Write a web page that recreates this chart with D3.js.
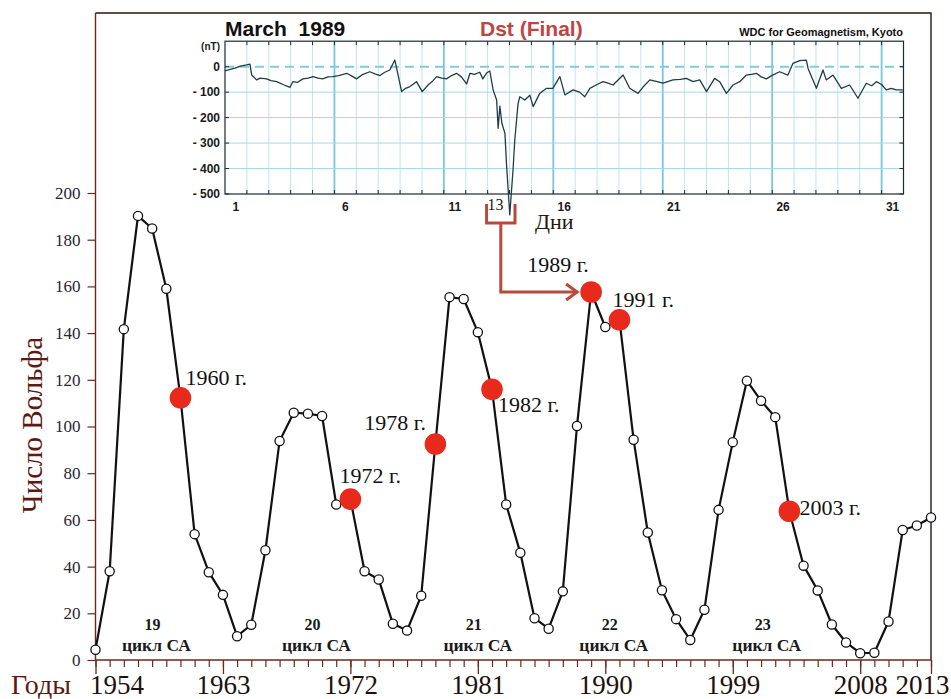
<!DOCTYPE html>
<html><head><meta charset="utf-8">
<script src="https://cdn.jsdelivr.net/npm/d3@7"></script>
<style>body{margin:0;background:#fff}svg{display:block}</style>
</head><body><svg id="c" width="951" height="699"></svg>
<script>
// ---- main chart data: yearly Wolf number ----
const years = d3.range(1954, 2014);
const wolf = [4.4,38.0,141.7,190.2,184.8,159.0,112.3,53.9,37.6,27.9,
  10.2,15.1,47.0,93.8,105.9,105.5,104.5,66.6,68.9,38.0,
  34.5,15.5,12.6,27.5,92.5,155.4,154.6,140.4,115.9,66.6,
  45.9,17.9,13.4,29.4,100.2,157.6,142.6,145.7,94.3,54.6,
  29.9,17.5,8.6,21.5,64.3,93.3,119.6,111.0,104.0,63.7,
  40.4,29.8,15.2,7.5,2.9,3.1,16.5,55.7,57.6,61.0];
const markedYears = [1960,1972,1978,1982,1989,1991,2003];
const markLabels = ["1960 г.","1972 г.","1978 г.","1982 г.","1989 г.","1991 г.","2003 г."];
const majorYears = [1954,1963,1972,1981,1990,1999,2008,2013];
const yTicks = d3.range(0,201,20);
const cycleNums = ["19","20","21","22","23"];
const cycleYears = [1958.3,1969.6,1981.0,1990.6,2001.4];

// ---- inset data: Dst, March 1989 (day = decimal days from 1 March 00 UT) ----
const dstDay = [0,0.20,0.46,0.70,0.99,1.14,1.22,1.45,1.60,1.90,2.10,2.36,2.65,2.97,3.10,3.30,3.56,3.80,4.02,4.25,4.47,4.70,4.93,5.20,5.56,5.80,6.01,6.30,6.62,6.85,7.08,7.30,7.53,7.76,7.84,8.07,8.25,8.45,8.75,9.01,9.28,9.50,9.67,9.90,10.12,10.35,10.58,10.80,11.04,11.19,11.40,11.64,11.78,11.95,12.10,12.25,12.41,12.48,12.56,12.65,12.79,12.86,13.01,13.16,13.24,13.39,13.47,13.70,13.93,14.08,14.38,14.69,14.98,15.30,15.53,15.90,16.20,16.44,16.67,17.00,17.27,17.50,17.73,18.19,18.49,18.87,19.10,19.41,19.70,20.01,20.47,20.80,21.08,21.38,21.69,22.00,22.37,22.60,22.91,23.21,23.52,23.82,24.05,24.28,24.50,24.73,25.02,25.34,25.72,25.95,26.26,26.56,26.64,27.02,27.32,27.47,27.78,28.16,28.54,28.92,29.30,29.55,29.76,30.00,30.21,30.45,30.67,30.97];
const dstNT = [-17,-12,-6,2,7,10,-33,-52,-45,-48,-55,-59,-70,-81,-59,-62,-48,-45,-39,-45,-48,-40,-39,-35,-26,-37,-48,-30,-20,-28,-35,-22,-13,26,-6,-98,-85,-78,-59,-98,-72,-55,-39,-45,-48,-35,-26,-40,-68,-26,-30,-22,-48,-25,-17,-91,-131,-242,-155,-222,-262,-380,-582,-405,-288,-144,-118,-131,-112,-157,-105,-85,-85,-39,-111,-91,-100,-118,-85,-70,-59,-65,-72,-33,-85,-105,-80,-52,-58,-65,-52,-50,-46,-59,-52,-98,-46,-59,-105,-72,-59,-33,-30,-26,-40,-48,-33,-20,-33,13,24,26,-7,-85,-13,-52,-33,-85,-72,-124,-65,-75,-59,-70,-91,-85,-91,-91];
const dayLabels = [1,6,11,16,21,26,31];
const dstTicks = [0,-100,-200,-300,-400,-500];

const svg = d3.select("#c");
const serif = "'Liberation Serif','Times New Roman',serif";
const sans = "'Liberation Sans',Arial,sans-serif";
const axisCol = "#6a2a1c";

const x = d3.scaleLinear().domain([1954,2013]).range([95.5,931]);
const y = d3.scaleLinear().domain([0,200]).range([660,193]);

// frame top/right
svg.append("path").attr("d",`M${x(1954)},13 H${x(2013)} V${y(0)}`)
  .attr("fill","none").attr("stroke","#2e1510").attr("stroke-width",1.4);

// ---------- inset ----------
const xi = d3.scaleLinear().domain([0,31]).range([225,903.5]);
const yi = d3.scaleLinear().domain([-500,100]).range([194,41.2]);
const gi = svg.append("g");
d3.range(1,31).forEach(d=>{
  const thick = d%5===0;
  gi.append("line").attr("x1",xi(d)).attr("x2",xi(d)).attr("y1",yi(100)).attr("y2",yi(-500))
    .attr("stroke",thick?"#79c6dc":"#bfe4ef").attr("stroke-width",thick?1.8:1);
});
[-100,-200,-300,-400].forEach(v=>{
  gi.append("line").attr("x1",xi(0)).attr("x2",xi(31)).attr("y1",yi(v)).attr("y2",yi(v))
    .attr("stroke","#a6d9e8").attr("stroke-width",1);
});
gi.append("line").attr("x1",xi(0)).attr("x2",xi(31)).attr("y1",yi(0)).attr("y2",yi(0))
  .attr("stroke","#7fcbe0").attr("stroke-width",2).attr("stroke-dasharray","9,6");
gi.append("rect").attr("x",xi(0)).attr("y",yi(100)).attr("width",xi(31)-xi(0)).attr("height",yi(-500)-yi(100))
  .attr("fill","none").attr("stroke","#1d2a33").attr("stroke-width",1.2);
d3.range(1,31).forEach(d=>{
  gi.append("line").attr("x1",xi(d)).attr("x2",xi(d)).attr("y1",yi(100)).attr("y2",yi(100)+4).attr("stroke","#1d2a33");
  gi.append("line").attr("x1",xi(d)).attr("x2",xi(d)).attr("y1",yi(-500)).attr("y2",yi(-500)-4).attr("stroke","#1d2a33");
});
dstTicks.forEach(v=>{
  gi.append("line").attr("x1",xi(0)).attr("x2",xi(0)+4).attr("y1",yi(v)).attr("y2",yi(v)).attr("stroke","#1d2a33");
  gi.append("line").attr("x1",xi(31)).attr("x2",xi(31)-4).attr("y1",yi(v)).attr("y2",yi(v)).attr("stroke","#1d2a33");
  gi.append("text").attr("x",xi(0)-5).attr("y",yi(v)+4).attr("text-anchor","end")
    .attr("font-family",sans).attr("font-weight","bold").attr("font-size",12).attr("fill","#1a1a1a")
    .text(v===0?"0":"- "+(-v));
});
gi.append("text").attr("x",xi(0)-5).attr("y",50).attr("text-anchor","end")
  .attr("font-family",sans).attr("font-weight","bold").attr("font-size",10).attr("fill","#1a1a1a").text("(nT)");
dayLabels.forEach(d=>{
  gi.append("text").attr("x",xi(d-0.5)).attr("y",211).attr("text-anchor","middle")
    .attr("font-family",sans).attr("font-weight","bold").attr("font-size",12).attr("fill","#1a1a1a").text(d);
});
gi.append("text").attr("x",xi(12.5)-3).attr("y",210).attr("text-anchor","middle")
  .attr("font-family",serif).attr("font-size",16).attr("fill","#1a1a1a").text("13");
gi.append("text").attr("x",535).attr("y",229).attr("font-family",serif).attr("font-size",22)
  .attr("fill","#2a1510").text("Дни");
gi.append("text").attr("x",225).attr("y",36).attr("font-family",sans).attr("font-weight","bold")
  .attr("font-size",21).attr("fill","#111").attr("xml:space","preserve").text("March  1989");
gi.append("text").attr("x",480).attr("y",36).attr("font-family",sans).attr("font-weight","bold")
  .attr("font-size",21).attr("fill","#bf4444").text("Dst (Final)");
gi.append("text").attr("x",903).attr("y",36).attr("text-anchor","end").attr("font-family",sans).attr("font-weight","bold")
  .attr("font-size",11).attr("fill","#111").text("WDC for Geomagnetism, Kyoto");
gi.append("path").datum(dstDay.map((d,i)=>[d,dstNT[i]]))
  .attr("d",d3.line().x(d=>xi(d[0])).y(d=>yi(d[1])))
  .attr("fill","none").attr("stroke","#1f3d48").attr("stroke-width",1.3).attr("stroke-linejoin","round");

// ---------- main axes ----------
const gy = svg.append("g").attr("transform",`translate(${x(1954)},0)`)
  .call(d3.axisLeft(y).tickValues(yTicks).tickSize(8).tickPadding(7).tickSizeOuter(0));
gy.select(".domain").remove();
gy.selectAll(".tick line").attr("stroke",axisCol).attr("stroke-width",1.2);
gy.selectAll(".tick text").attr("font-family",serif).attr("font-size",17).attr("fill","#2a2530");
svg.append("line").attr("x1",x(1954)).attr("x2",x(1954)).attr("y1",13).attr("y2",y(0))
  .attr("stroke",axisCol).attr("stroke-width",1.4);

const gxm = svg.append("g").attr("transform",`translate(0,${y(0)})`)
  .call(d3.axisBottom(x).tickValues(years).tickSize(7).tickFormat(""));
gxm.select(".domain").remove();
gxm.selectAll(".tick line").attr("stroke",axisCol).attr("stroke-width",1.2);
const gx = svg.append("g").attr("transform",`translate(0,${y(0)})`)
  .call(d3.axisBottom(x).tickValues(majorYears).tickSize(14).tickPadding(16).tickFormat(d3.format("d")));
gx.select(".domain").remove();
gx.selectAll(".tick line").attr("stroke",axisCol).attr("stroke-width",1.3);
gx.selectAll(".tick text").attr("font-family",serif).attr("font-size",27).attr("fill","#1e1210")
  .attr("dy",0).attr("y",34)
  .attr("text-anchor",d=>d===1954?"start":(d===2013?"end":"middle"))
  .attr("dx",d=>d===1954?-6:(d===2013?18:0));
svg.append("line").attr("x1",x(1954)).attr("x2",x(2013)).attr("y1",y(0)).attr("y2",y(0))
  .attr("stroke",axisCol).attr("stroke-width",1.4);

svg.append("text").attr("x",11).attr("y",694).attr("font-family",serif).attr("font-size",28)
  .attr("fill","#5e1a10").text("Годы");
svg.append("text").attr("transform",`translate(42,425) rotate(-90)`).attr("text-anchor","middle")
  .attr("font-family",serif).attr("font-size",29).attr("fill","#5e1a10").text("Число Вольфа");

cycleNums.forEach((c,i)=>{
  svg.append("text").attr("x",x(cycleYears[i])-4).attr("y",630).attr("text-anchor","middle")
    .attr("font-family",serif).attr("font-weight","bold").attr("font-size",16).attr("fill","#1a1a1a").text(c);
  svg.append("text").attr("x",x(cycleYears[i])).attr("y",651).attr("text-anchor","middle")
    .attr("font-family",serif).attr("font-weight","bold").attr("font-size",17.5).attr("fill","#1a1a1a").text("цикл СА");
});

// bracket + arrow
const bl = xi(11.95), br = xi(13.25), bm = (bl+br)/2;
const py = y(wolf[years.indexOf(1989)]);
const red = "#b84a3c";
svg.append("path").attr("d",`M${bl},204 V223 H${br} V204`).attr("fill","none").attr("stroke",red).attr("stroke-width",3);
svg.append("path").attr("d",`M${bm},223 V${py} H${x(1989)-14}`).attr("fill","none").attr("stroke",red).attr("stroke-width",3);
svg.append("path").attr("d",`M${x(1989)-25},${py-8} L${x(1989)-14},${py} L${x(1989)-25},${py+8}`)
  .attr("fill","none").attr("stroke",red).attr("stroke-width",3);

// main line & points
const pts = years.map((yr,i)=>({yr,v:wolf[i]}));
svg.append("path").datum(pts).attr("d",d3.line().x(d=>x(d.yr)).y(d=>y(d.v)))
  .attr("fill","none").attr("stroke","#111").attr("stroke-width",2.2).attr("stroke-linejoin","round");
svg.selectAll("circle.o").data(pts.filter(d=>!markedYears.includes(d.yr))).join("circle")
  .attr("class","o").attr("cx",d=>x(d.yr)).attr("cy",d=>y(d.v)).attr("r",4.6)
  .attr("fill","#fff").attr("stroke","#111").attr("stroke-width",1.3);
const defs = svg.append("defs");
defs.append("filter").attr("id","soft").append("feGaussianBlur").attr("stdDeviation",0.7);
svg.selectAll("circle.r").data(pts.filter(d=>markedYears.includes(d.yr))).join("circle")
  .attr("class","r").attr("cx",d=>x(d.yr)).attr("cy",d=>y(d.v)).attr("r",10.8)
  .attr("fill","#e8291f").attr("filter","url(#soft)");

const lblOff = {1960:[5,-13],1972:[-11,-16],1978:[-71,-14],1982:[6,23],1989:[-64,-20],1991:[-7,-13],2003:[10,4]};
markedYears.forEach((yr,i)=>{
  const v = wolf[years.indexOf(yr)];
  svg.append("text").attr("x",x(yr)+lblOff[yr][0]).attr("y",y(v)+lblOff[yr][1])
    .attr("font-family",serif).attr("font-size",22).attr("fill","#111").text(markLabels[i]);
});
</script></body></html>
